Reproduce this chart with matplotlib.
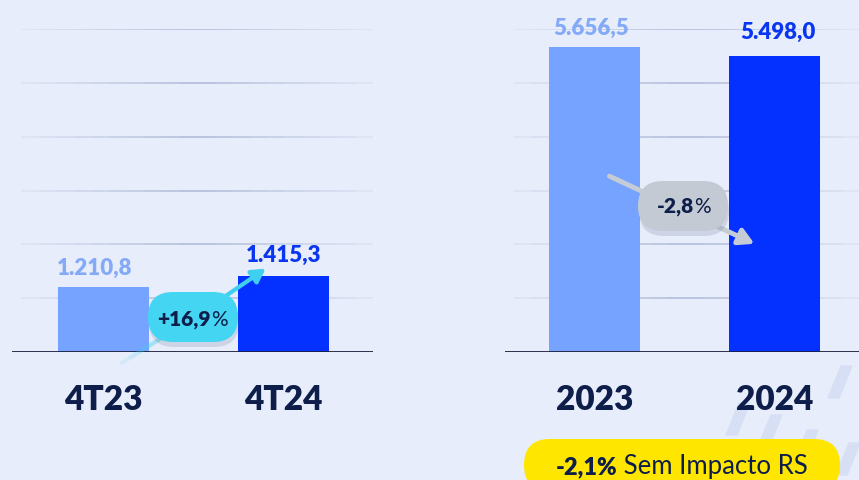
import matplotlib.pyplot as plt
from matplotlib.patches import FancyBboxPatch, Polygon

# dados
trimestres = ["4T23", "4T24"]
valores_tri = [1210.8, 1415.3]
rotulos_tri = ["1.210,8", "1.415,3"]

anos = ["2023", "2024"]
valores_ano = [5656.5, 5498.0]
rotulos_ano = ["5.656,5", "5.498,0"]

var_tri = ("+16,9", "%")
var_ano = ("-2,8", "%")
nota = ("-2,1%", " Sem Impacto RS")

cor_claro = "#76A3FF"
cor_escuro = "#0431FF"
cor_rot_claro = "#84AAF7"
cor_rot_escuro = "#0A36F2"
cor_texto = "#0E1E4A"
fundo = "#E7EDFA"

plt.rcParams["font.family"] = ["Lato", "DejaVu Sans"]

fig = plt.figure(figsize=(8.59, 4.81), dpi=100)
fig.patch.set_facecolor(fundo)

W, H = 859, 481
base = 353
topo = 30

# fundo com tracos decorativos (atras de tudo)
bg = fig.add_axes([0, 0, 1, 1])
bg.set_xlim(0, W)
bg.set_ylim(H, 0)
bg.axis("off")
for (cx, cy) in [(738, 420), (770, 432), (806, 447), (840, 383), (848, 460)]:
    bg.add_patch(Polygon([[cx - 12, cy + 16], [cx - 1, cy + 16], [cx + 12, cy - 16], [cx + 1, cy - 16]],
                         closed=True, color="#D6DFF4", zorder=1))


def grade(ax, y, xmin, xmax):
    # linha que desvanece nas pontas
    n = 20
    for k in range(n):
        a = xmin + (xmax - xmin) * k / n
        b = xmin + (xmax - xmin) * (k + 1) / n
        m = 1 - abs((k + 0.5) / n - 0.5) * 2
        ax.plot([a, b], [y, y], color="#8C99C2", lw=1.2, alpha=0.1 + 0.5 * m,
                solid_capstyle="butt", zorder=0)


def painel(x0, x1, xmin, xmax, cats, vals, rots, dy, dx):
    ax = fig.add_axes([x0 / W, (H - base) / H, (x1 - x0) / W, (base - topo) / H])
    ax.set_facecolor("none")
    ax.set_xlim(xmin, xmax)
    ax.set_ylim(0, 6000)
    for g in range(1000, 7000, 1000):
        grade(ax, g, xmin + 0.05, xmax)
    ax.bar([0, 1], vals, width=0.506, color=[cor_claro, cor_escuro], zorder=2)
    ax.axhline(0, color="#1B1F3B", lw=2, zorder=3)
    for i, (v, r) in enumerate(zip(vals, rots)):
        ax.text(i + dx[i], v + dy[i], r, ha="center", va="bottom",
                fontsize=16, fontweight="heavy",
                color=cor_rot_claro if i == 0 else cor_rot_escuro)
    ax.set_xticks([0, 1])
    ax.set_xticklabels(cats, fontsize=24, fontweight="heavy", color=cor_texto)
    ax.tick_params(axis="x", length=0, pad=22)
    ax.set_yticks([])
    for s in ax.spines.values():
        s.set_visible(False)
    return ax


painel(12, 373, -0.508, 1.497, trimestres, valores_tri, rotulos_tri, [160, 200], [-0.05, 0.0])
painel(505, 859, -0.497, 1.469, anos, valores_ano, rotulos_ano, [170, 270], [-0.02, 0.02])

# camada de sobreposicao em pixels
ov = fig.add_axes([0, 0, 1, 1])
ov.set_xlim(0, W)
ov.set_ylim(H, 0)
ov.axis("off")
ov.patch.set_alpha(0)

# seta trimestre
ov.annotate("", xy=(268, 268), xytext=(195, 318),
            arrowprops=dict(arrowstyle="-|>,head_length=0.8,head_width=0.45", color="#3FD0F0", lw=3),
            zorder=4)
for k in range(8):
    t0 = k / 8
    t1 = (k + 1) / 8
    ov.plot([120 + (195 - 120) * t0, 120 + (195 - 120) * t1],
            [365 - (365 - 318) * t0, 365 - (365 - 318) * t1],
            color="#3FD0F0", lw=3, alpha=0.1 + 0.1 * k, solid_capstyle="butt", zorder=4)

# seta ano
ov.annotate("", xy=(757, 246), xytext=(607, 176),
            arrowprops=dict(arrowstyle="-|>,head_length=0.9,head_width=0.5", color="#C6CCD5", lw=3.5),
            zorder=4)


def pilula(cx, cy, w, h, cor, sombra=True):
    if sombra:
        ov.add_patch(FancyBboxPatch((cx - w / 2 + 1, cy - h / 2 + 5), w, h,
                                    boxstyle="round,pad=0,rounding_size=%d" % (h / 2),
                                    fc="#5A6787", ec="none", alpha=0.18, zorder=5))
    ov.add_patch(FancyBboxPatch((cx - w / 2, cy - h / 2), w, h,
                                boxstyle="round,pad=0,rounding_size=%d" % (h / 2),
                                fc=cor, ec="none", zorder=6))


pilula(193, 318, 90, 50, "#44D5F3")
ov.text(211, 320, var_tri[0], ha="right", va="center", fontsize=15, fontweight="heavy", color=cor_texto, zorder=7)
ov.text(211, 320, var_tri[1], ha="left", va="center", fontsize=15, color=cor_texto, zorder=7)

pilula(683, 207, 90, 50, "#C4CAD3")
ov.text(694, 207, var_ano[0], ha="right", va="center", fontsize=15, fontweight="heavy", color=cor_texto, zorder=7)
ov.text(694, 207, var_ano[1], ha="left", va="center", fontsize=15, color=cor_texto, zorder=7)

pilula(682, 466, 316, 52, "#FFE600", sombra=False)
ov.text(617, 467, nota[0], ha="right", va="center", fontsize=17, fontweight="heavy", color=cor_texto, zorder=7)
ov.text(617, 467, nota[1], ha="left", va="center", fontsize=18.5, color=cor_texto, zorder=7)

fig.savefig("out.png", dpi=100, facecolor=fundo)
